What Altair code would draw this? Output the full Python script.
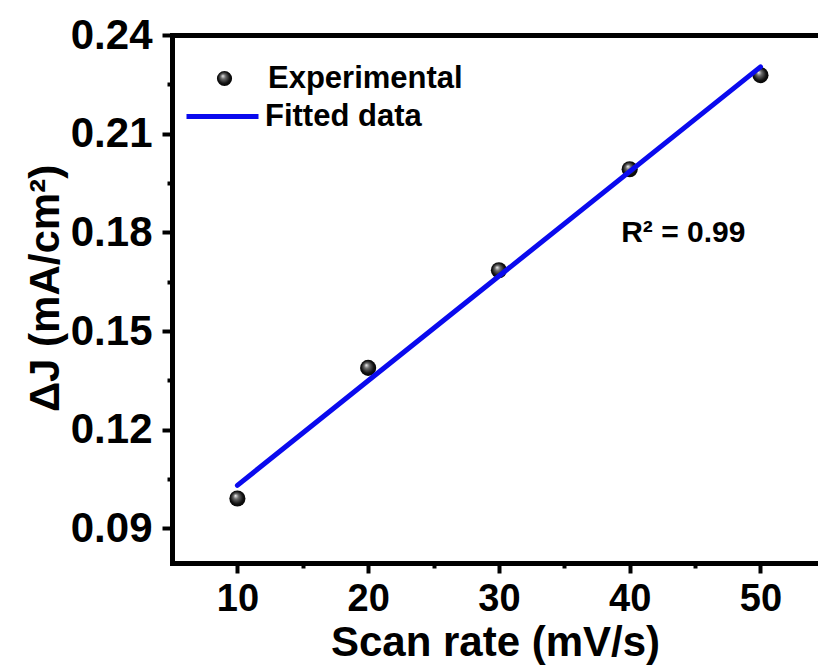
import altair as alt
import pandas as pd

# ---- data ----
scan_rate = [10, 20, 30, 40, 50]
delta_j = [0.0991, 0.1388, 0.1685, 0.1992, 0.2278]
fit_x = [10, 50]
fit_y = [0.1031, 0.2303]
series_names = ["Experimental", "Fitted data"]
x_ticks = [10, 15, 20, 25, 30, 35, 40, 45, 50]
y_ticks = [0.09, 0.105, 0.12, 0.135, 0.15, 0.165, 0.18, 0.195, 0.21, 0.225, 0.24]
x_domain = [5, 54.4]
y_domain = [0.0795, 0.24]
r2_text = ["R² = 0.99"]
r2_x = [44.1]
r2_y = [0.1798]

pts = pd.DataFrame({"x": scan_rate, "y": delta_j, "s": series_names[0]})
fit = pd.DataFrame({"x": fit_x, "y": fit_y, "s": series_names[1]})
ann = pd.DataFrame({"x": r2_x, "y": r2_y, "t": r2_text})

FONT = "Liberation Sans"
xscale = alt.Scale(domain=x_domain, nice=False, zero=False)
yscale = alt.Scale(domain=y_domain, nice=False, zero=False)

major_x = "datum.value % 10 == 0"
major_y = "round(datum.value * 1000) % 30 == 0"

x_axis = alt.Axis(
    values=x_ticks,
    title="Scan rate (mV/s)",
    labelExpr=f"({major_x}) ? format(datum.value, 'd') : ''",
    tickSize={"condition": {"test": major_x, "value": 10}, "value": 5},
    labelFontSize=38,
    labelPadding=7,
    titleFontSize=42,
    titleY=79,
    titleBaseline="middle",
    labelFlush=False,
    labelOverlap=False,
)

y_axis = alt.Axis(
    values=y_ticks,
    title="ΔJ (mA/cm²)",
    labelExpr=f"({major_y}) ? format(datum.value, '.2f') : ''",
    tickSize={"condition": {"test": major_y, "value": 10}, "value": 5},
    labelFontSize=42,
    labelPadding=10,
    titleFontSize=42,
    titleX=-127,
    titleY=253,
    titleAngle=-90,
    titleAlign="center",
    titleBaseline="middle",
    labelFlush=False,
    labelOverlap=False,
)

top_axis = alt.Axis(orient="top", labels=False, ticks=False, title=None, domainWidth=5)

sphere = alt.RadialGradient(
    gradient="radial",
    x1=0.38, y1=0.32, r1=0.0,
    x2=0.5, y2=0.5, r2=0.55,
    stops=[
        alt.GradientStop(color="#f4f4f4", offset=0.0),
        alt.GradientStop(color="#6a6a6a", offset=0.3),
        alt.GradientStop(color="#111111", offset=0.7),
        alt.GradientStop(color="#000000", offset=1.0),
    ],
)

points = alt.Chart(pts).mark_point(
    filled=True, fill=sphere, size=260, opacity=1, strokeWidth=0
).encode(
    x=alt.X("x:Q", scale=xscale, axis=x_axis),
    y=alt.Y("y:Q", scale=yscale, axis=y_axis),
    shape=alt.Shape(
        "s:N",
        scale=alt.Scale(domain=[series_names[0]], range=["circle"]),
        legend=alt.Legend(
            title=None, orient="none", legendX=37, legendY=28,
            symbolFillColor="black", symbolStrokeColor="black",
            symbolSize=230, symbolStrokeWidth=0, symbolOpacity=1,
            labelFont=FONT, labelFontSize=31, labelFontWeight="bold",
            labelColor="black", labelOffset=28, labelLimit=0, padding=0,
        ),
    ),
)

line = alt.Chart(fit).mark_line(strokeWidth=5, strokeCap="round").encode(
    x=alt.X("x:Q", scale=xscale, axis=top_axis),
    y=alt.Y("y:Q", scale=yscale),
    stroke=alt.Stroke(
        "s:N",
        scale=alt.Scale(domain=[series_names[1]], range=["#0a0aee"]),
        legend=alt.Legend(
            title=None, orient="none", legendX=12, legendY=43,
            symbolType="stroke", symbolSize=5184, symbolStrokeWidth=5,
            labelFont=FONT, labelFontSize=31, labelFontWeight="bold",
            labelColor="black", labelOffset=4, labelLimit=0, padding=0,
        ),
    ),
)

txt = alt.Chart(ann).mark_text(
    font=FONT, fontSize=30, fontWeight="bold", color="black",
    align="center", baseline="middle",
).encode(
    x=alt.X("x:Q", scale=xscale, axis=None),
    y=alt.Y("y:Q", scale=yscale),
    text="t:N",
)

chart = (
    alt.layer(points, line, txt)
    .resolve_axis(x="independent")
    .properties(
        width=646,
        height=528,
        autosize=alt.AutoSizeParams(type="none"),
        padding={"left": 172, "top": 35, "right": 0, "bottom": 103},
        background="white",
    )
    .configure_view(stroke=None)
    .configure_axis(
        domainColor="black", domainWidth=5, domainCap="square",
        tickColor="black", tickWidth=4,
        labelFont=FONT, labelFontWeight="bold", labelColor="black",
        titleFont=FONT, titleFontWeight="bold", titleColor="black",
        grid=False,
    )
)

chart.save("out.html", embed_options={"renderer": "svg", "actions": False})
